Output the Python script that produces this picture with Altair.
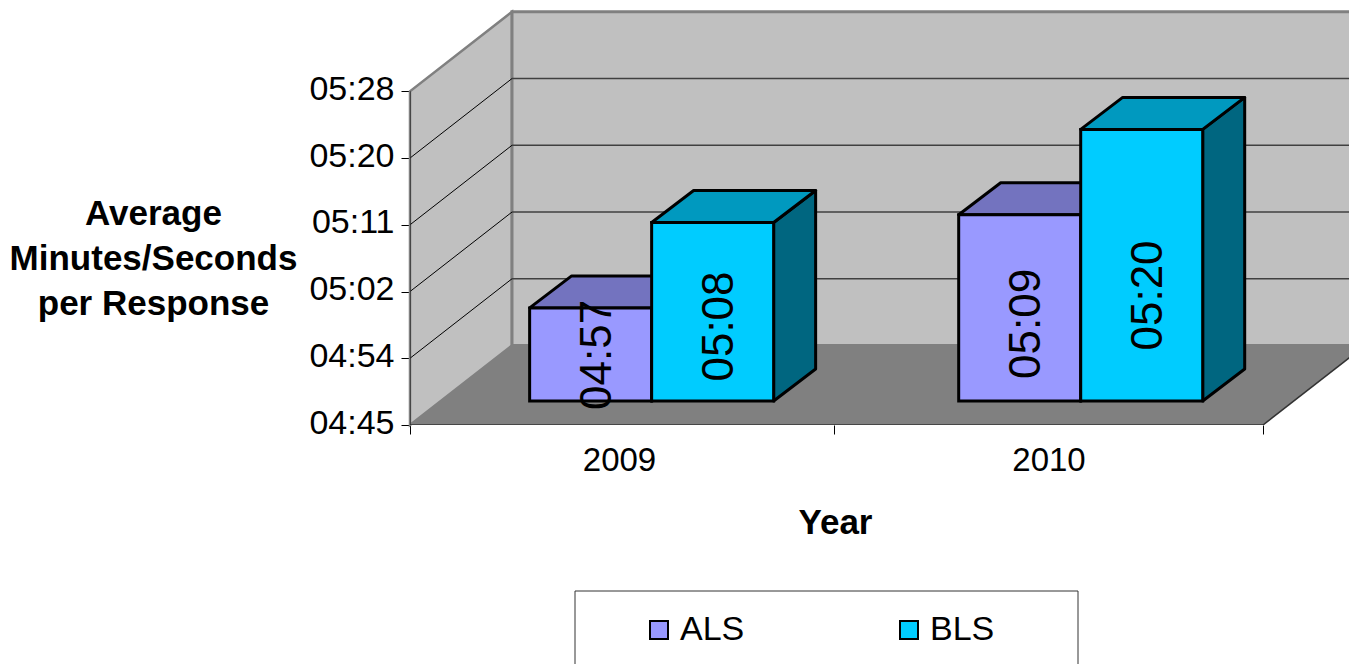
import altair as alt
import pandas as pd

# ---- chart values ----
years = ["2009", "2010"]
series = ["ALS", "BLS"]
als_times = ["04:57", "05:09"]
bls_times = ["05:08", "05:20"]
tick_labels = ["04:45", "04:54", "05:02", "05:11", "05:20", "05:28"]
front_colors = ["#9999FF", "#00CCFF"]
top_colors = ["#7373BF", "#0099BF"]
side_colors = ["#4D4D80", "#006680"]

# ---- pseudo-3D geometry, in axis units ----
FONT = "Liberation Sans"
PX_X = 426.5            # pixels per category
PX_Y = 7.76             # pixels per second
Y_MIN, Y_MAX = 285, 328
STEP_Y = (Y_MAX - Y_MIN) / 5
PLOT_W, PLOT_H = 939, 417
WALL_DX, WALL_DY = 102 / PX_X, 79.5 / PX_Y
BAR_DX, BAR_DY = 42 / PX_X, 32 / PX_Y
BASE_SHIFT = 24 / PX_Y
BAR_W = 122 / PX_X
BAR_OFFSET, GROUP_STEP = 0.2805, 1.006


def secs(t):
    m, s = t.split(":")
    return int(m) * 60 + int(s)


X_SCALE = alt.Scale(domain=[0, PLOT_W / PX_X], nice=False, zero=False)
Y_SCALE = alt.Scale(domain=[Y_MIN, Y_MIN + PLOT_H / PX_Y], nice=False, zero=False)

y_axis = alt.Axis(
    values=[Y_MIN + i * STEP_Y for i in range(6)],
    labelExpr="%s[round((datum.value-%d)/%f)]" % (tick_labels, Y_MIN, STEP_Y),
    domain=False, grid=False, tickSize=9, tickColor="#000000", tickWidth=1,
    labelFont=FONT, labelFontSize=34, labelColor="#000000", labelPadding=7, labelOffset=-2,
    title=["Average", "Minutes/Seconds", "per Response"],
    titleFont=FONT, titleFontSize=35, titleFontWeight="bold", titleColor="#000000",
    titleAngle=0, titleAlign="center", titleBaseline="middle",
    titleX=-257, titleY=205, titleLineHeight=45,
)
x_axis = alt.Axis(
    values=[0, 424 / PX_X, 2],
    labels=False, domain=False, grid=False, tickSize=9, tickColor="#000000", tickWidth=1,
    title="Year", titleFont=FONT, titleFontSize=35, titleFontWeight="bold", titleColor="#000000",
    titleX=425, titleY=97, titleBaseline="middle", titleAlign="center",
)


def X():
    return alt.X("x:Q", scale=X_SCALE, axis=x_axis, stack=None)


def Y():
    return alt.Y("y:Q", scale=Y_SCALE, axis=y_axis, stack=None)


# ---- walls, floor, grid ----
left_wall = alt.Chart(pd.DataFrame({
    "x": [0, WALL_DX],
    "y": [Y_MIN, Y_MIN + WALL_DY],
    "y2": [Y_MAX, Y_MAX + WALL_DY],
})).mark_area(fill="#C0C0C0", stroke="#808080", strokeWidth=2.5, line=False).encode(
    x=X(), y=Y(), y2="y2:Q",
)

back_wall = alt.Chart(pd.DataFrame({
    "x": [WALL_DX], "x2": [PLOT_W / PX_X + 1],
    "y": [Y_MIN + WALL_DY], "y2": [Y_MAX + WALL_DY],
})).mark_rect(fill="#C0C0C0", stroke="#808080", strokeWidth=3).encode(
    x=X(), x2="x2:Q", y=Y(), y2="y2:Q",
)

floor = alt.Chart(pd.DataFrame({
    "y": [Y_MIN, Y_MIN + WALL_DY],
    "x": [0, WALL_DX],
    "x2": [2, 2 + WALL_DX],
})).mark_area(orient="horizontal", fill="#808080").encode(
    x=X(), x2="x2:Q", y=Y(),
)

grid_rows = []
for i in range(1, 5):
    v = Y_MIN + i * STEP_Y
    grid_rows.append({"g": i, "x": 0, "y": v})
    grid_rows.append({"g": i, "x": WALL_DX, "y": v + WALL_DY})
left_grid = alt.Chart(pd.DataFrame(grid_rows)).mark_line(color="#000000", strokeWidth=1).encode(
    x=X(), y=Y(), detail="g:N",
)
back_rows = []
for i in range(1, 5):
    v = Y_MIN + i * STEP_Y + WALL_DY
    back_rows.append({"g": i, "x": WALL_DX, "y": v})
    back_rows.append({"g": i, "x": PLOT_W / PX_X + 1, "y": v})
back_grid = alt.Chart(pd.DataFrame(back_rows)).mark_line(color="#404040", strokeWidth=1.5, clip=True).encode(
    x=X(), y=Y(), detail="g:N",
)

# axis lines: value axis, category axis, right floor edge
edges = alt.Chart(pd.DataFrame({
    "g": ["v", "v", "h", "h", "e", "e"],
    "x": [0, 0, 0, 2, 2, 2 + WALL_DX],
    "y": [Y_MIN, Y_MAX, Y_MIN, Y_MIN, Y_MIN, Y_MIN + WALL_DY],
    "o": [0, 1, 0, 1, 0, 1],
})).mark_line(color="#333333", strokeWidth=1.5, clip=True).encode(
    x=X(), y=Y(), detail="g:N", order="o:Q",
)

# ---- bars ----
layers = [left_wall, back_wall, floor, left_grid, back_grid, edges]
all_labels = []
for s, (name, times) in enumerate(zip(series, [als_times, bls_times])):
    side_rows, top_rows, front_rows = [], [], []
    for g, t in enumerate(times):
        v = secs(t)
        left = g * GROUP_STEP + BAR_OFFSET + s * BAR_W
        right = left + BAR_W
        top = v + BASE_SHIFT
        base = Y_MIN + BASE_SHIFT
        side_rows += [
            {"b": g, "x": right, "y": base, "y2": top},
            {"b": g, "x": right + BAR_DX, "y": base + BAR_DY, "y2": top + BAR_DY},
        ]
        top_rows += [
            {"b": g, "y": top, "x": left, "x2": right},
            {"b": g, "y": top + BAR_DY, "x": left + BAR_DX, "x2": right + BAR_DX},
        ]
        front_rows.append({"series": name, "x": left, "x2": right, "y": base, "y2": top})
        all_labels.append({
            "x": left + BAR_W / 2 + 7 / PX_X,
            "y": base + 15 / PX_Y + (top - base) / 3,
            "label": t,
        })
    layers.append(alt.Chart(pd.DataFrame(side_rows)).mark_area(
        fill=side_colors[s], stroke="#000000", strokeWidth=3, strokeJoin="round",
    ).encode(x=X(), y=Y(), y2="y2:Q", detail="b:N"))
    layers.append(alt.Chart(pd.DataFrame(top_rows)).mark_area(
        orient="horizontal", fill=top_colors[s], stroke="#000000", strokeWidth=3, strokeJoin="round",
    ).encode(x=X(), x2="x2:Q", y=Y(), detail="b:N"))
    layers.append(alt.Chart(pd.DataFrame(front_rows)).mark_rect(
        stroke="#000000", strokeWidth=3,
    ).encode(
        x=X(), x2="x2:Q", y=Y(), y2="y2:Q",
        color=alt.Color("series:N", scale=alt.Scale(domain=series, range=front_colors), legend=alt.Legend(
            title=None, orient="none", legendX=232, legendY=602, padding=0, columns=2,
            columnPadding=147, symbolType="square", symbolSize=324,
            symbolStrokeColor="#000000", symbolStrokeWidth=2, symbolOpacity=1,
            labelFont=FONT, labelFontSize=34, labelColor="#000000", labelOffset=4,
            clipHeight=40,
        )),
    ))

bar_labels = alt.Chart(pd.DataFrame(all_labels)).mark_text(
    angle=270, font=FONT, fontSize=44, color="#000000", align="center", baseline="middle",
).encode(x=X(), y=Y(), text="label:N")

year_labels = alt.Chart(pd.DataFrame({
    "x": [209.5 / PX_X, 639 / PX_X], "label": years,
})).mark_text(font=FONT, fontSize=33, color="#000000", align="center", baseline="middle").encode(
    x=X(), y=alt.value(PLOT_H + 36), text="label:N",
)

legend_frame = alt.Chart(pd.DataFrame({"k": [0]})).mark_rect(
    fill="#FFFFFF", stroke="#333333", strokeWidth=1,
).encode(x=alt.value(165), x2=alt.value(668), y=alt.value(583), y2=alt.value(720))

layers = [legend_frame] + layers + [bar_labels, year_labels]

chart = alt.layer(*layers).resolve_scale(color="shared").properties(
    width=PLOT_W, height=PLOT_H,
    autosize=alt.AutoSizeParams(type="none"),
    padding={"left": 402, "top": 0, "right": 0, "bottom": 239},
).configure_view(stroke=None)

chart.save("out.html", embed_options={"renderer": "svg", "actions": False})
